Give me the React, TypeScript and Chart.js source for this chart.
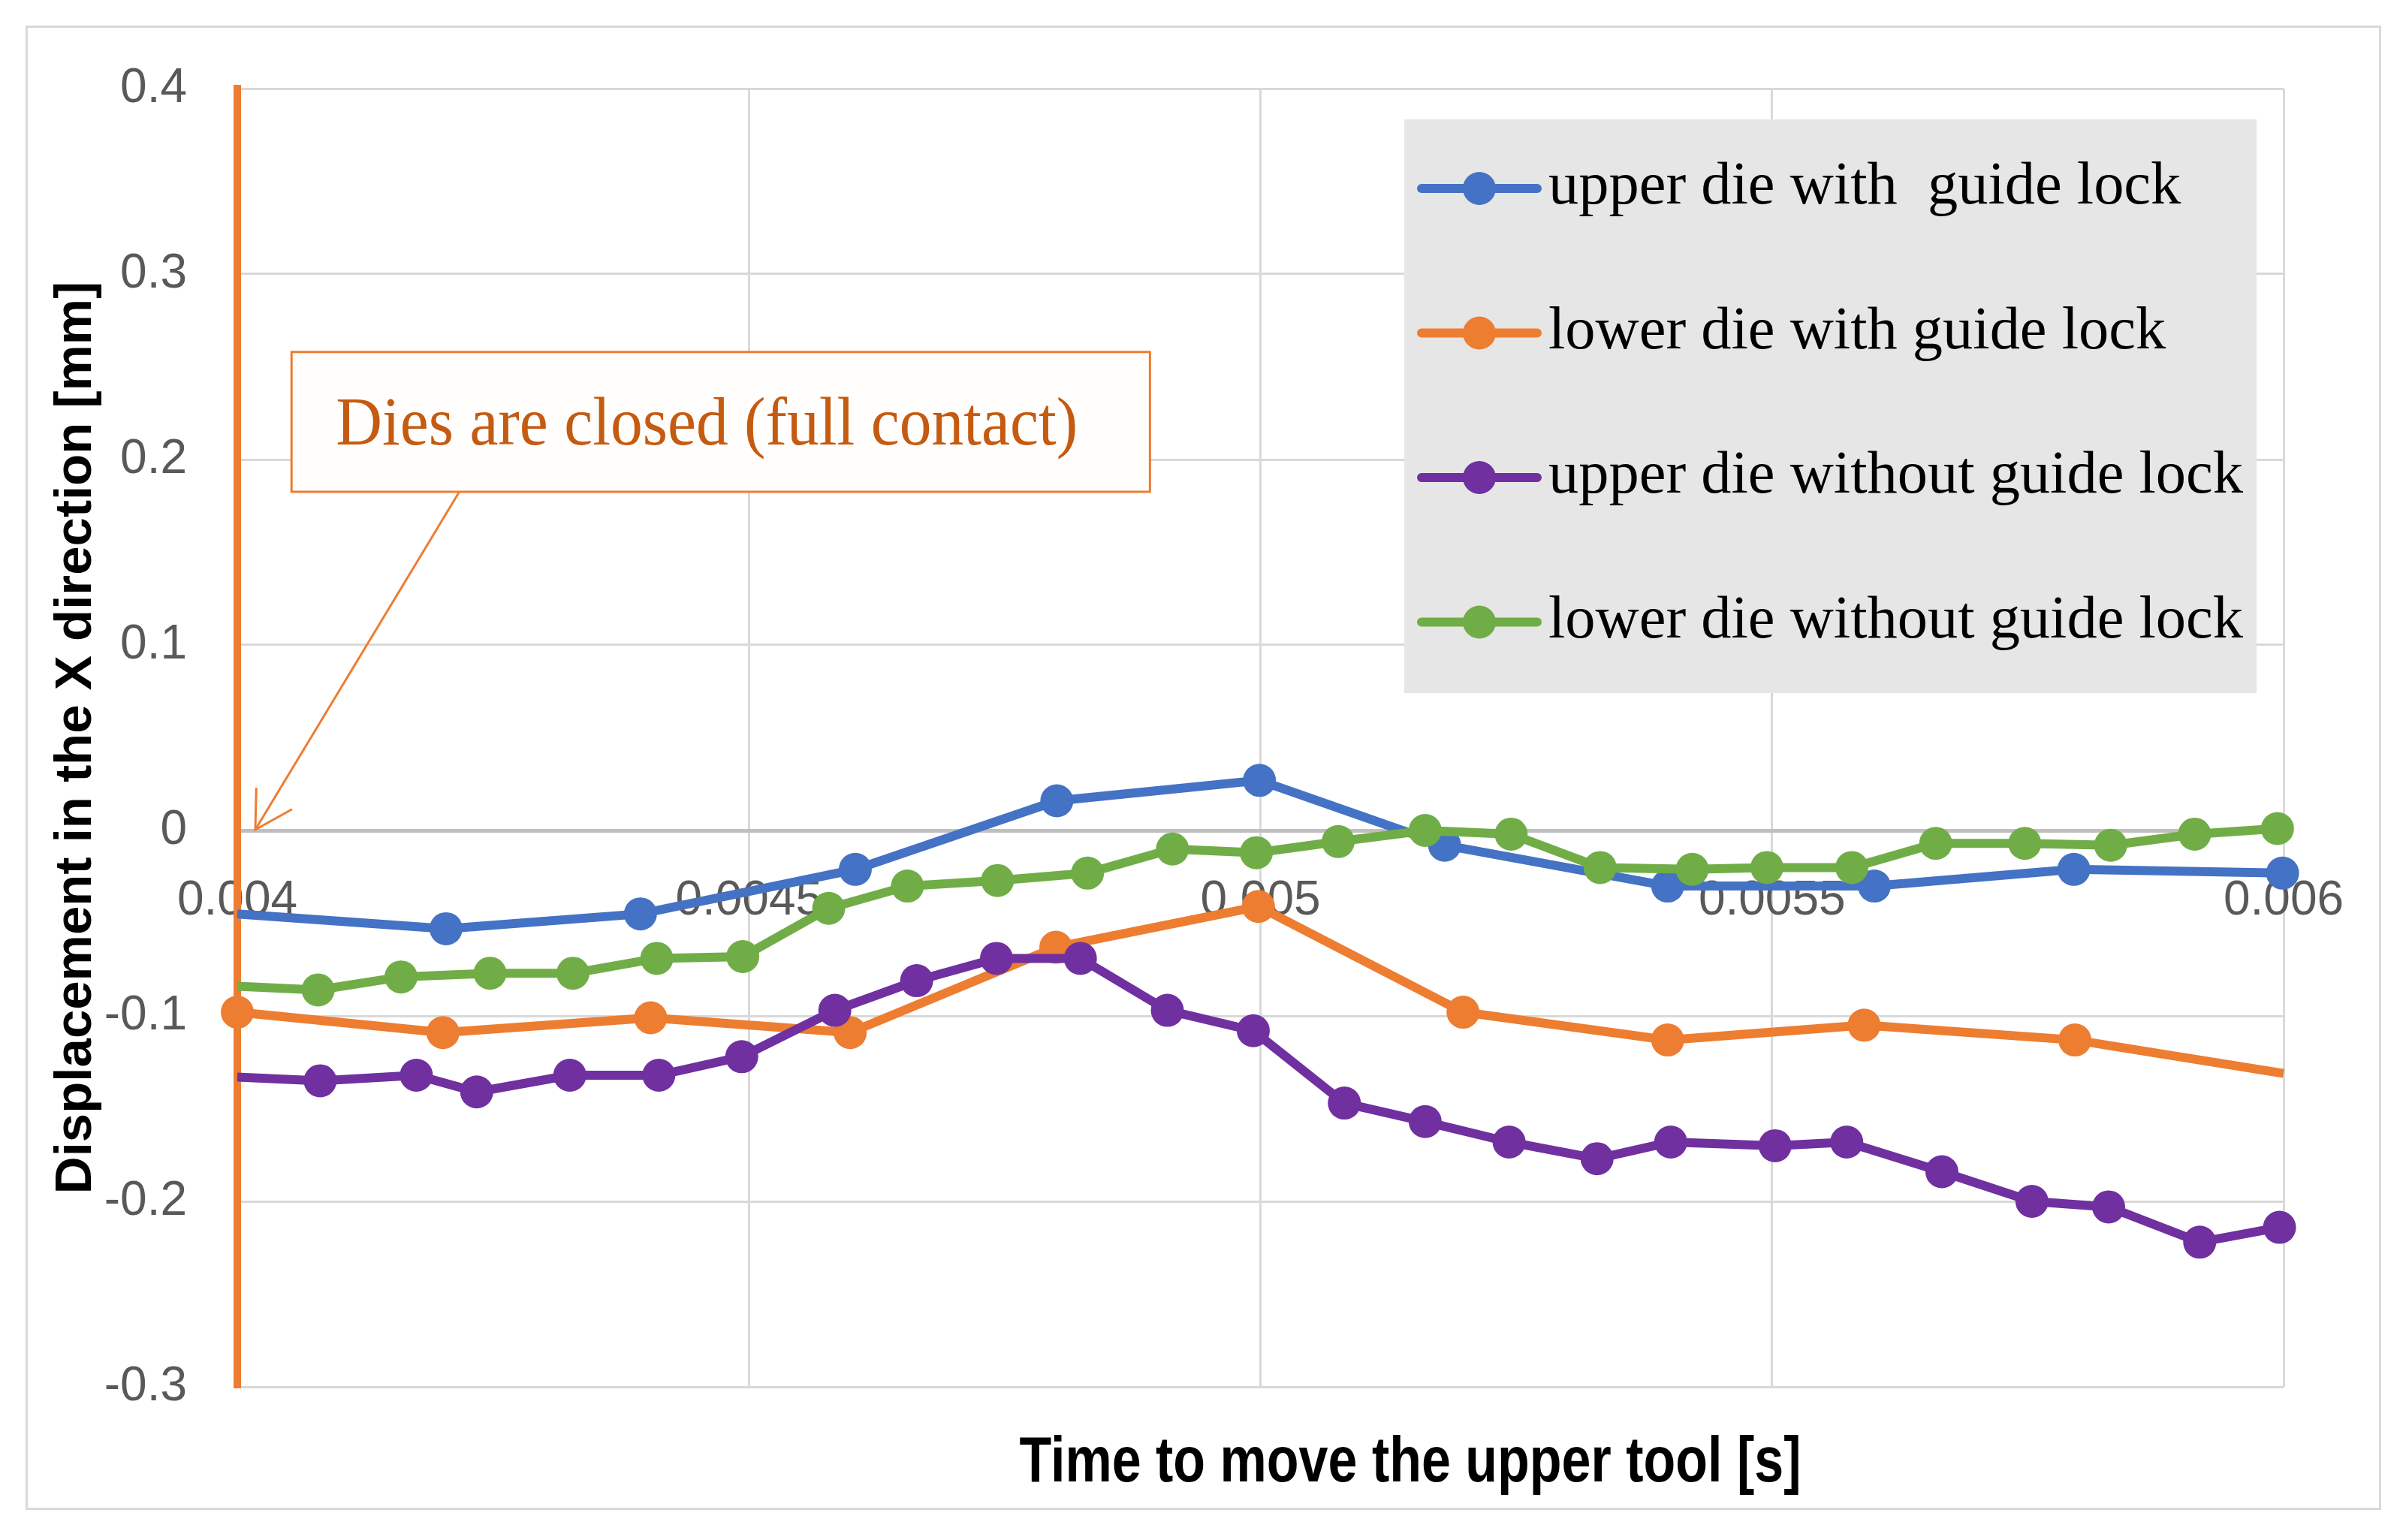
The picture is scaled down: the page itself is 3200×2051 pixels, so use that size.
import React, { useEffect, useRef } from 'react';
import { Chart, registerables } from 'chart.js';

Chart.register(...registerables);

// ---------------- data ----------------
const SERIES_LABELS = [
  'upper die with  guide lock',
  'lower die with guide lock',
  'upper die without guide lock',
  'lower die without guide lock',
];
const SERIES_COLORS = ['#4472C4', '#ED7D31', '#7030A0', '#70AD47'];

const UPPER_WITH_X = [0.004, 0.004204, 0.004394, 0.004604, 0.004801, 0.004999, 0.00518, 0.005398, 0.0056, 0.005795, 0.005999];
const UPPER_WITH_Y = [-0.045, -0.053, -0.045, -0.021, 0.016, 0.027, -0.008, -0.03, -0.03, -0.021, -0.023];

const LOWER_WITH_X = [0.004, 0.004201, 0.004404, 0.004599, 0.0048, 0.004998, 0.005198, 0.005398, 0.00559, 0.005796, 0.006];
const LOWER_WITH_Y = [-0.098, -0.109, -0.101, -0.109, -0.063, -0.041, -0.098, -0.113, -0.105, -0.113, -0.131];

const UPPER_WITHOUT_X = [0.004, 0.004081, 0.004175, 0.004234, 0.004325, 0.004412, 0.004493, 0.004584, 0.004664, 0.004742, 0.004824, 0.004909, 0.004993, 0.005082, 0.005161, 0.005243, 0.005329, 0.005401, 0.005503, 0.005573, 0.005666, 0.005754, 0.005829, 0.005918, 0.005996];
const UPPER_WITHOUT_Y = [-0.133, -0.135, -0.132, -0.141, -0.132, -0.132, -0.122, -0.097, -0.081, -0.069, -0.069, -0.097, -0.108, -0.147, -0.157, -0.168, -0.177, -0.168, -0.17, -0.168, -0.184, -0.2, -0.203, -0.222, -0.214];

const LOWER_WITHOUT_X = [0.004, 0.004079, 0.00416, 0.004247, 0.004328, 0.00441, 0.004494, 0.004578, 0.004655, 0.004743, 0.004831, 0.004914, 0.004996, 0.005076, 0.005161, 0.005245, 0.005332, 0.005422, 0.005495, 0.005578, 0.00566, 0.005747, 0.005831, 0.005913, 0.005994];
const LOWER_WITHOUT_Y = [-0.084, -0.086, -0.079, -0.077, -0.077, -0.069, -0.068, -0.042, -0.03, -0.027, -0.023, -0.01, -0.012, -0.006, 0.0, -0.002, -0.02, -0.021, -0.02, -0.02, -0.007, -0.007, -0.008, -0.002, 0.001];

const X_TICKS = [0.004, 0.0045, 0.005, 0.0055, 0.006];
const X_TICK_LABELS = ['0.004', '0.0045', '0.005', '0.0055', '0.006'];
const Y_TICKS = [-0.3, -0.2, -0.1, 0, 0.1, 0.2, 0.3, 0.4];
const Y_TICK_LABELS = ['-0.3', '-0.2', '-0.1', '0', '0.1', '0.2', '0.3', '0.4'];

const X_TITLE = 'Time to move the upper tool [s]';
const Y_TITLE = 'Displacement in the X direction [mm]';
const NOTE_TEXT = 'Dies are closed (full contact)';

// annotation anchor in data units
const NOTE_BOX = { x0: 0.004053, x1: 0.004892, yTop: 0.258, yBottom: 0.1826 };
const NOTE_ARROW = { fromX: 0.004217, toX: 0.0040176, toY: 0.0004 };

// ---------------- helpers ----------------
const SANS = '"Liberation Sans", Arial, sans-serif';
const SERIF = '"Liberation Serif", "Times New Roman", serif';

function pts(xs: number[], ys: number[]) {
  return xs.map((x, i) => ({ x, y: ys[i] }));
}

function fitScale(ctx: CanvasRenderingContext2D, text: string, font: string, target: number) {
  ctx.save();
  ctx.font = font;
  const w = ctx.measureText(text).width;
  ctx.restore();
  return target / w;
}

function drawScaledText(
  ctx: CanvasRenderingContext2D,
  text: string,
  x: number,
  y: number,
  font: string,
  color: string,
  sx: number,
  align: CanvasTextAlign
) {
  ctx.save();
  ctx.translate(x, y);
  ctx.scale(sx, 1);
  ctx.font = font;
  ctx.fillStyle = color;
  ctx.textAlign = align;
  ctx.textBaseline = 'alphabetic';
  ctx.fillText(text, 0, 0);
  ctx.restore();
}

const overlayPlugin = {
  id: 'overlay',
  beforeDraw(chart: any) {
    const ctx: CanvasRenderingContext2D = chart.ctx;
    ctx.save();
    ctx.fillStyle = '#ffffff';
    ctx.fillRect(0, 0, chart.width, chart.height);
    ctx.strokeStyle = '#d9d9d9';
    ctx.lineWidth = 3;
    ctx.strokeRect(35.5, 35.5, 3134, 1974);
    ctx.restore();
  },
  afterDraw(chart: any) {
    const ctx: CanvasRenderingContext2D = chart.ctx;
    const xs = chart.scales.x;
    const ys = chart.scales.y;

    // ---- legend ----
    ctx.save();
    ctx.fillStyle = '#E7E6E6';
    ctx.fillRect(1870, 159, 1135, 764);
    const legFont = `80px ${SERIF}`;
    const longest = SERIES_LABELS.reduce((a, b) => (b.length > a.length ? b : a));
    const legSx = fitScale(ctx, longest, legFont, 925);
    SERIES_LABELS.forEach((label, i) => {
      const cy = 251 + i * 192.5;
      ctx.strokeStyle = SERIES_COLORS[i];
      ctx.lineWidth = 12;
      ctx.lineCap = 'round';
      ctx.beginPath();
      ctx.moveTo(1893, cy);
      ctx.lineTo(2047, cy);
      ctx.stroke();
      ctx.fillStyle = SERIES_COLORS[i];
      ctx.beginPath();
      ctx.arc(1970, cy, 22, 0, Math.PI * 2);
      ctx.fill();
      drawScaledText(ctx, label, 2062, cy + 20, legFont, '#000000', legSx, 'left');
    });
    ctx.restore();

    // ---- annotation ----
    const bx0 = xs.getPixelForValue(NOTE_BOX.x0);
    const bx1 = xs.getPixelForValue(NOTE_BOX.x1);
    const by0 = ys.getPixelForValue(NOTE_BOX.yTop);
    const by1 = ys.getPixelForValue(NOTE_BOX.yBottom);
    ctx.save();
    ctx.fillStyle = '#FFFEFC';
    ctx.fillRect(bx0, by0, bx1 - bx0, by1 - by0);
    ctx.strokeStyle = '#ED7D31';
    ctx.lineWidth = 3;
    ctx.strokeRect(bx0, by0, bx1 - bx0, by1 - by0);
    const noteFont = `92px ${SERIF}`;
    const noteSx = fitScale(ctx, NOTE_TEXT, noteFont, 988);
    drawScaledText(ctx, NOTE_TEXT, bx0 + 59, (by0 + by1) / 2 + 30, noteFont, '#C55A11', noteSx, 'left');

    // arrow
    const ax0 = xs.getPixelForValue(NOTE_ARROW.fromX);
    const ay0 = by1;
    const ax1 = xs.getPixelForValue(NOTE_ARROW.toX);
    const ay1 = ys.getPixelForValue(NOTE_ARROW.toY);
    ctx.strokeStyle = '#ED7D31';
    ctx.lineWidth = 3;
    ctx.beginPath();
    ctx.moveTo(ax0, ay0);
    ctx.lineTo(ax1, ay1);
    ctx.stroke();
    const ang = Math.atan2(ay0 - ay1, ax0 - ax1);
    const len = 56;
    const spread = 0.52;
    ctx.beginPath();
    ctx.moveTo(ax1 + len * Math.cos(ang - spread), ay1 + len * Math.sin(ang - spread));
    ctx.lineTo(ax1, ay1);
    ctx.lineTo(ax1 + len * Math.cos(ang + spread), ay1 + len * Math.sin(ang + spread));
    ctx.stroke();
    ctx.restore();

    // ---- x title ----
    const xtFont = `bold 85px ${SANS}`;
    const xtSx = fitScale(ctx, X_TITLE, xtFont, 1041);
    drawScaledText(ctx, X_TITLE, 1878, 1973, xtFont, '#000000', xtSx, 'center');
  },
};

export default function App() {
  const canvasRef = useRef<HTMLCanvasElement | null>(null);

  useEffect(() => {
    const canvas = canvasRef.current;
    if (!canvas) return;

    const lineDs = (
      idx: number,
      xsArr: number[],
      ysArr: number[],
      hideFirst: boolean,
      hideLast: boolean,
      order: number
    ) => ({
      label: SERIES_LABELS[idx],
      data: pts(xsArr, ysArr),
      borderColor: SERIES_COLORS[idx],
      backgroundColor: SERIES_COLORS[idx],
      pointBackgroundColor: SERIES_COLORS[idx],
      pointBorderColor: SERIES_COLORS[idx],
      pointBorderWidth: 0,
      pointRadius: (c: any) => {
        if (hideFirst && c.dataIndex === 0) return 0;
        if (hideLast && c.dataIndex === xsArr.length - 1) return 0;
        return 22;
      },
      borderWidth: 12,
      tension: 0,
      clip: false as any,
      order,
    });

    const tickFont = { family: SANS, size: 64 };

    const chart = new Chart(canvas, {
      type: 'line',
      data: {
        datasets: [
          lineDs(0, UPPER_WITH_X, UPPER_WITH_Y, true, false, 3),
          lineDs(1, LOWER_WITH_X, LOWER_WITH_Y, false, true, 2),
          lineDs(2, UPPER_WITHOUT_X, UPPER_WITHOUT_Y, true, false, 1),
          lineDs(3, LOWER_WITHOUT_X, LOWER_WITHOUT_Y, true, false, 0),
        ] as any,
      },
      options: {
        responsive: false,
        devicePixelRatio: 1,
        animation: false,
        events: [],
        layout: { padding: { left: 35, right: 159, top: 118, bottom: 204 } },
        plugins: {
          legend: { display: false },
          tooltip: { enabled: false },
          title: { display: false },
        },
        scales: {
          x: {
            type: 'linear',
            min: 0.004,
            max: 0.006,
            position: { y: 0 } as any,
            afterBuildTicks: (s: any) => {
              s.ticks = X_TICKS.map((value) => ({ value }));
            },
            ticks: {
              callback: (_v: any, i: number) => X_TICK_LABELS[i],
              font: tickFont,
              color: '#595959',
              padding: 56,
              maxRotation: 0,
              autoSkip: false,
            },
            grid: { color: '#d9d9d9', lineWidth: 3, drawTicks: false },
            border: { color: '#bfbfbf', width: 5 },
          },
          y: {
            type: 'linear',
            min: -0.3,
            max: 0.4,
            position: 'left',
            afterBuildTicks: (s: any) => {
              s.ticks = Y_TICKS.map((value) => ({ value }));
            },
            afterFit: (s: any) => {
              s.width = 281;
            },
            ticks: {
              callback: (_v: any, i: number) => Y_TICK_LABELS[i],
              font: tickFont,
              color: '#595959',
              padding: 67,
            },
            grid: { color: '#d9d9d9', lineWidth: 3, drawTicks: false },
            border: { color: '#ED7D31', width: 10 },
            title: {
              display: true,
              text: Y_TITLE,
              color: '#000000',
              font: { family: SANS, size: 69, weight: 'bold' },
              padding: { top: 26, bottom: 0 },
            },
          },
        },
      } as any,
      plugins: [overlayPlugin],
    });

    return () => {
      chart.destroy();
    };
  }, []);

  return (
    <div style={{ position: 'absolute', left: 0, top: 0, width: 3200, height: 2051, background: '#ffffff' }}>
      <canvas ref={canvasRef} width={3200} height={2051} style={{ display: 'block', width: 3200, height: 2051 }} />
    </div>
  );
}
